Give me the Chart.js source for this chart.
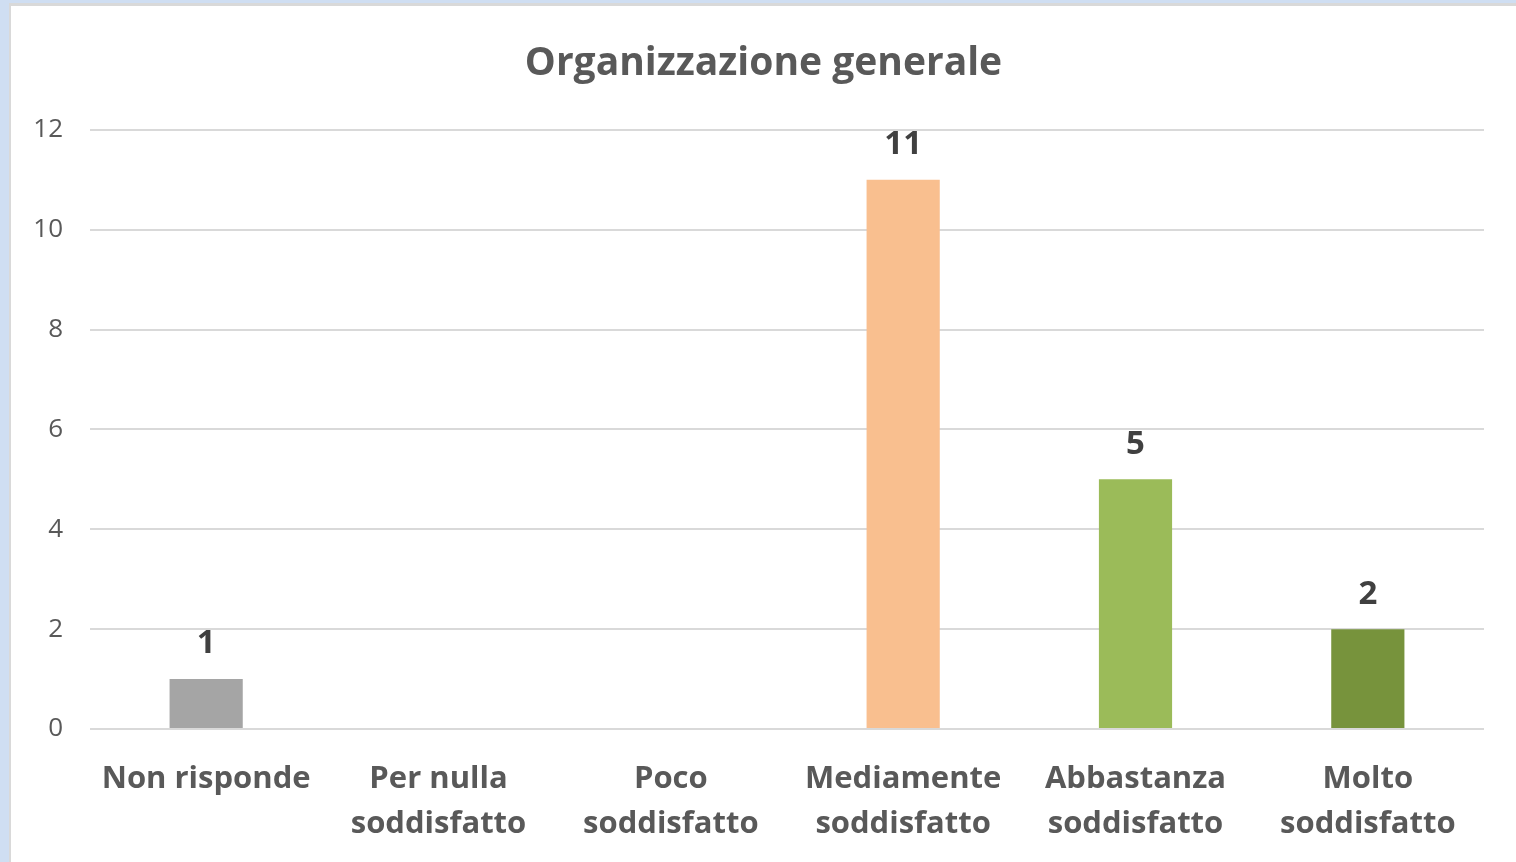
<!DOCTYPE html>
<html>
<head>
<meta charset="utf-8">
<script src="https://cdn.jsdelivr.net/npm/chart.js@4"></script>
<style>
  html, body { margin: 0; padding: 0; background: #cfdef2; }
  #frame { position: absolute; left: 0; top: 0; width: 1516px; height: 862px; background: #cfdef2; overflow: hidden; }
  #inner { position: absolute; left: 9px; top: 3px; width: 1505px; height: 856px; border-left: 2px solid #d9d9d9; border-top: 3px solid #d9d9d9; background: #ffffff; }
  #c { display: block; }
</style>
</head>
<body>
<div id="frame"><div id="inner"><canvas id="c" width="1505" height="856"></canvas></div></div>
<script>
const title = "Organizzazione generale";
const categories = [["Non risponde"], ["Per nulla", "soddisfatto"], ["Poco", "soddisfatto"], ["Mediamente", "soddisfatto"], ["Abbastanza", "soddisfatto"], ["Molto", "soddisfatto"]];
const values = [1, null, null, 11, 5, 2];
const barColors = ["#a5a5a5", "#a5a5a5", "#a5a5a5", "#f9bf8f", "#9bbb59", "#77933c"];
const yTicks = { min: 0, max: 12, step: 2 };

const FONT = "'Open Sans', Lato, sans-serif";

const valueLabels = {
  id: "valueLabels",
  afterDatasetsDraw(chart) {
    const ctx = chart.ctx;
    const meta = chart.getDatasetMeta(0);
    ctx.save();
    ctx.font = "bold 33px " + FONT;
    ctx.fillStyle = "#404040";
    ctx.textAlign = "center";
    ctx.textBaseline = "middle";
    meta.data.forEach((bar, i) => {
      const v = chart.data.datasets[0].data[i];
      if (v === null || v === undefined) return;
      ctx.fillText(String(v), bar.x, bar.y - 35);
    });
    ctx.restore();
  }
};

new Chart(document.getElementById("c"), {
  type: "bar",
  data: {
    labels: categories,
    datasets: [{
      data: values,
      backgroundColor: barColors,
      borderWidth: 0,
      categoryPercentage: 1,
      barPercentage: 0.315
    }]
  },
  options: {
    responsive: false,
    animation: false,
    layout: { padding: { left: 0, right: 0, top: 0, bottom: 0 } },
    plugins: {
      legend: { display: false },
      tooltip: { enabled: false },
      title: {
        display: true,
        text: title,
        color: "#595959",
        font: { family: FONT, size: 39, weight: "bold", lineHeight: 1.2 },
        padding: { top: 34, bottom: 43 }
      }
    },
    scales: {
      x: {
        grid: { display: false, drawTicks: false },
        border: { display: false },
        ticks: {
          color: "#595959",
          font: { family: FONT, size: 31, weight: "bold", lineHeight: 1.45 },
          padding: 28,
          maxRotation: 0,
          autoSkip: false
        },
        afterFit(s) { s.height = 133; }
      },
      y: {
        min: yTicks.min,
        max: yTicks.max,
        grid: { color: "#d9d9d9", lineWidth: 2, drawTicks: false },
        border: { display: false },
        ticks: {
          stepSize: yTicks.step,
          color: "#595959",
          font: { family: FONT, size: 26 },
          padding: 27
        },
        afterFit(s) { s.width = 79; }
      },
      yRight: {
        position: "right",
        display: true,
        min: yTicks.min,
        max: yTicks.max,
        grid: { display: false, drawTicks: false },
        border: { display: false },
        ticks: { display: false },
        afterFit(s) { s.width = 32; }
      }
    }
  },
  plugins: [valueLabels]
});
</script>
</body>
</html>
